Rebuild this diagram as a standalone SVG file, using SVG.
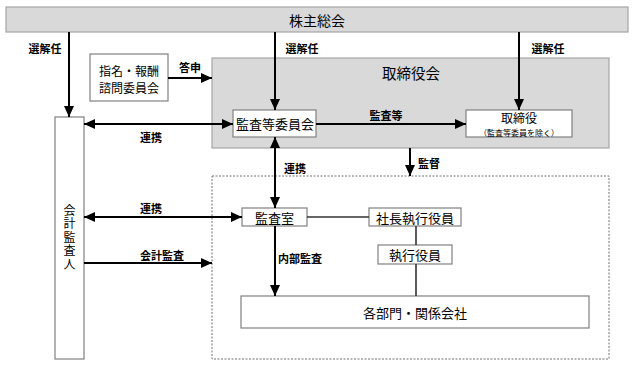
<svg xmlns="http://www.w3.org/2000/svg" width="633" height="365" viewBox="0 0 633 365">
<style>
text{font-family:"Noto Sans CJK JP","Noto Sans CJK SC",sans-serif;fill:#000;text-anchor:middle;dominant-baseline:central}
.lbl{font-size:11px;font-weight:bold}
.nt{font-size:13px}
.vt{font-size:12px;writing-mode:vertical-rl;letter-spacing:1.5px}
.box{fill:#fff;stroke:#808080;stroke-width:1.2}
.gray{fill:#d9d9d9;stroke:#a6a6a6;stroke-width:1.2}
.arr{stroke:#000;stroke-width:2;fill:none}
.ln{stroke:#333;stroke-width:1.6;fill:none}
</style>
<defs>
<marker id="ah" markerUnits="userSpaceOnUse" markerWidth="12" markerHeight="10" refX="11" refY="5" orient="auto-start-reverse">
<path d="M0,0 L11,5 L0,10 Z" fill="#000"/>
</marker>
</defs>
<rect width="633" height="365" fill="#fff"/>
<g id="shareholders">
<rect class="gray" x="6" y="7" width="622" height="25"/>
<text x="317" y="20" style="font-size:14px">株主総会</text>
</g>
<g id="board">
<rect class="gray" x="212" y="58" width="397" height="90"/>
<text x="411" y="72" style="font-size:14.5px">取締役会</text>
</g>
<g id="executive-area">
<rect x="212" y="176" width="397" height="183" fill="none" stroke="#707070" stroke-width="1" stroke-dasharray="2,1.5"/>
</g>
<g id="nomination">
<rect class="box" x="90" y="54" width="78" height="47"/>
<text x="129" y="70" style="font-size:12px">指名・報酬</text>
<text x="129" y="87.5" style="font-size:12px">諮問委員会</text>
</g>
<g id="audit-committee">
<rect class="box" x="233" y="110" width="83" height="27"/>
<text class="nt" x="275" y="123.5">監査等委員会</text>
</g>
<g id="directors">
<rect class="box" x="466" y="110" width="106" height="27"/>
<text x="519" y="117.5" style="font-size:12px">取締役</text>
<text x="519" y="132.5" style="font-size:8px">（監査等委員を除く）</text>
</g>
<g id="auditor">
<rect class="box" x="55" y="117" width="29" height="242"/>
<text class="vt" x="69.5" y="238">会計監査人</text>
</g>
<g id="audit-office">
<rect class="box" x="242" y="208" width="65" height="18"/>
<text class="nt" x="274.5" y="217">監査室</text>
</g>
<g id="president">
<rect class="box" x="369" y="208" width="92" height="18"/>
<text class="nt" x="415" y="217">社長執行役員</text>
</g>
<g id="officers">
<rect class="box" x="378" y="245" width="74" height="19"/>
<text class="nt" x="415" y="254.5">執行役員</text>
</g>
<g id="departments">
<rect class="box" x="241" y="296" width="348" height="32"/>
<text class="nt" x="415" y="312">各部門・関係会社</text>
</g>
<g id="connectors">
<line class="arr" x1="69" y1="32" x2="69" y2="117" marker-end="url(#ah)"/>
<line class="arr" x1="275" y1="32" x2="275" y2="110" marker-end="url(#ah)"/>
<line class="arr" x1="519" y1="32" x2="519" y2="110" marker-end="url(#ah)"/>
<line class="arr" x1="168" y1="78" x2="212" y2="78" marker-end="url(#ah)"/>
<line class="arr" x1="84" y1="124" x2="233" y2="124" marker-start="url(#ah)" marker-end="url(#ah)"/>
<line class="arr" x1="316" y1="124" x2="466" y2="124" marker-end="url(#ah)"/>
<line class="arr" x1="275" y1="137" x2="275" y2="208" marker-start="url(#ah)" marker-end="url(#ah)"/>
<line class="arr" x1="410" y1="148" x2="410" y2="176" marker-end="url(#ah)"/>
<line class="arr" x1="84" y1="217" x2="242" y2="217" marker-start="url(#ah)" marker-end="url(#ah)"/>
<line class="arr" x1="84" y1="263" x2="212" y2="263" marker-end="url(#ah)"/>
<line class="arr" x1="275" y1="226" x2="275" y2="296" marker-end="url(#ah)"/>
<line class="ln" x1="307" y1="217" x2="369" y2="217"/>
<line class="ln" x1="416" y1="226" x2="416" y2="245"/>
<line class="ln" x1="416" y1="264" x2="416" y2="296"/>
<text class="lbl" x="45" y="48">選解任</text>
<text class="lbl" x="302" y="48">選解任</text>
<text class="lbl" x="548" y="48">選解任</text>
<text class="lbl" x="190" y="67">答申</text>
<text class="lbl" x="386" y="115">監査等</text>
<text class="lbl" x="151" y="137">連携</text>
<text class="lbl" x="295" y="168">連携</text>
<text class="lbl" x="429" y="163">監督</text>
<text class="lbl" x="151" y="208">連携</text>
<text class="lbl" x="162" y="255">会計監査</text>
<text class="lbl" x="300" y="258">内部監査</text>
</g>
</svg>
